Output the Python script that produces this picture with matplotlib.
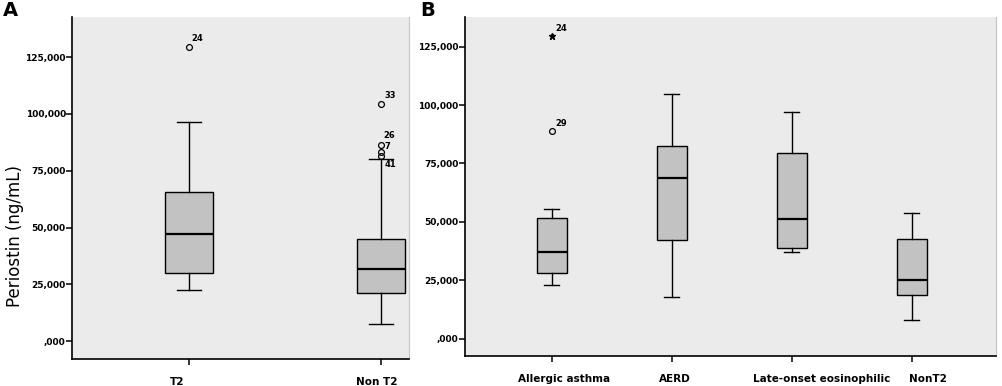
import matplotlib
matplotlib.use('Agg')
from matplotlib import pyplot as plt
from matplotlib.ticker import FuncFormatter
from matplotlib.transforms import ScaledTranslation

# panel A: T2 vs Non T2 (periostin, ng/mL)
groups_a = ['T2', 'Non T2']
whislo_a = [22.4, 7.6]
q1_a = [30.2, 21.4]
med_a = [47.4, 31.8]
q3_a = [65.6, 45.0]
whishi_a = [96.5, 80.2]
out_a_group = [0, 1, 1, 1, 1]
out_a_value = [129.5, 104.4, 86.5, 83.4, 81.7]
out_a_case = ['24', '33', '26', '7', '41']

# panel B: phenotypes
groups_b = ['Allergic asthma', 'AERD', 'Late-onset eosinophilic', 'NonT2']
whislo_b = [22.8, 17.8, 36.9, 7.8]
q1_b = [27.9, 42.1, 38.6, 18.6]
med_b = [37.2, 68.6, 51.3, 24.9]
q3_b = [51.5, 82.6, 79.5, 42.5]
whishi_b = [55.5, 104.6, 96.9, 53.9]
out_b_group = [0]
out_b_value = [88.9]
out_b_case = ['29']
ext_b_group = [0]
ext_b_value = [129.7]
ext_b_case = ['24']

yticks = [0, 25, 50, 75, 100, 125]

BG = '#ebebeb'
BOX = '#c2c2c2'
DPI = 100


def spss_fmt(v, pos):
    s = '{:.3f}'.format(v).replace('.', ',')
    if s.startswith('0'):
        s = s[1:]
    return s


def make_stats(whislo, q1, med, q3, whishi):
    return [dict(whislo=a, q1=b, med=c, q3=d, whishi=e)
            for a, b, c, d, e in zip(whislo, q1, med, q3, whishi)]


def style_axes(ax, groups, label_shift):
    ax.set_facecolor(BG)
    ax.spines['top'].set_visible(False)
    ax.spines['right'].set_color('#c4c4c4')
    ax.spines['left'].set_linewidth(1.2)
    ax.spines['bottom'].set_linewidth(1.2)
    ax.set_yticks(yticks)
    ax.yaxis.set_major_formatter(FuncFormatter(spss_fmt))
    ax.tick_params(axis='y', direction='out', length=4, width=1.1, pad=0.5,
                   labelsize=6.5)
    ax.tick_params(axis='x', direction='out', length=4, width=1.1, pad=9,
                   labelsize=7.5)
    ax.set_xticks(range(1, len(groups) + 1))
    ax.set_xticklabels(groups)
    for lab in ax.get_yticklabels() + ax.get_xticklabels():
        lab.set_fontweight('bold')
    for lab, dx in zip(ax.get_xticklabels(), label_shift):
        lab.set_transform(lab.get_transform() +
                          ScaledTranslation(dx / DPI, 0, ax.figure.dpi_scale_trans))


def draw_boxes(ax, stats):
    ax.bxp(stats, positions=range(1, len(stats) + 1), widths=0.25,
           capwidths=0.125, patch_artist=True, showfliers=False,
           boxprops=dict(facecolor=BOX, edgecolor='black', linewidth=1.0),
           medianprops=dict(color='black', linewidth=1.6),
           whiskerprops=dict(color='black', linewidth=1.0),
           capprops=dict(color='black', linewidth=1.0))


def label_points(ax, xs, ys, cases, offsets):
    for x, y, c, (dx, dy) in zip(xs, ys, cases, offsets):
        ax.annotate(c, (x, y), xytext=(dx, dy), textcoords='offset pixels',
                    ha='center', va='center', fontsize=6, fontweight='bold')


fig = plt.figure(figsize=(10.02, 3.86), dpi=DPI)

# ---- panel A
ax_a = fig.add_axes([0.0719, 0.0699, 0.3363, 0.8853])
draw_boxes(ax_a, make_stats(whislo_a, q1_a, med_a, q3_a, whishi_a))
xa = [g + 1 for g in out_a_group]
ax_a.plot(xa, out_a_value, 'o', mfc='none', mec='black', ms=4.2, mew=0.9)
label_points(ax_a, xa, out_a_value, out_a_case,
             [(8.5, 8), (9, 8.5), (8.5, 9), (6.5, 5.5), (9, -8.5)])
ax_a.set_xlim(0.391, 2.146)
ax_a.set_ylim(-7.8, 142.5)
style_axes(ax_a, groups_a, [-12, -4])

# ---- panel B
ax_b = fig.add_axes([0.4636, 0.0777, 0.5309, 0.878])
draw_boxes(ax_b, make_stats(whislo_b, q1_b, med_b, q3_b, whishi_b))
xb = [g + 1 for g in out_b_group]
ax_b.plot(xb, out_b_value, 'o', mfc='none', mec='black', ms=4.2, mew=0.9)
label_points(ax_b, xb, out_b_value, out_b_case, [(10, 7.5)])
xe = [g + 1 for g in ext_b_group]
ax_b.plot(xe, ext_b_value, '*', color='black', ms=4.5)
label_points(ax_b, xe, ext_b_value, ext_b_case, [(9.5, 7.5)])
ax_b.set_xlim(0.275, 4.707)
ax_b.set_ylim(-7.5, 137.7)
style_axes(ax_b, groups_b, [13, 3, 30, 16])

fig.text(15 / 1002, 1 - 236 / 386, 'Periostin (ng/mL)', rotation=90,
         ha='center', va='center', fontsize=12)
fig.text(3 / 1002, 1 - 1 / 386, 'A', ha='left', va='top', fontsize=14,
         fontweight='bold')
fig.text(420 / 1002, 1 - 1 / 386, 'B', ha='left', va='top', fontsize=14,
         fontweight='bold')

fig.savefig('out.png', dpi=DPI)
